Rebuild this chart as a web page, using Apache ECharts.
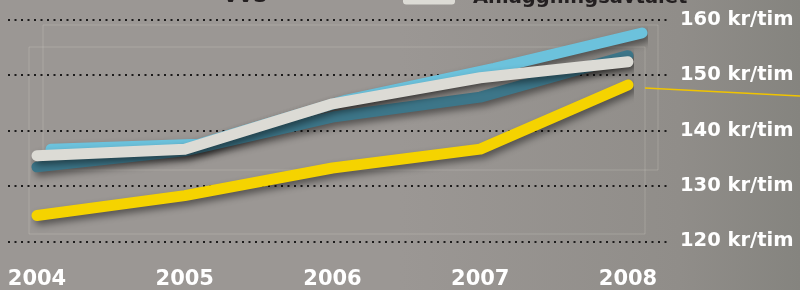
<!DOCTYPE html>
<html>
<head>
<meta charset="utf-8">
<script src="https://cdn.jsdelivr.net/npm/echarts@6/dist/echarts.min.js"></script>
<style>
html,body{margin:0;padding:0;}
#c{width:800px;height:290px;}
</style>
</head>
<body>
<div id="c"></div>
<script>
// ---- data ----
var years = ['2004', '2005', '2006', '2007', '2008'];
var lightBlue = [136.6, 137.5, 145.5, 151.2, 157.6];   // VVS
var darkBlue  = [133.4, 136.3, 142.4, 146.0, 153.5];
var whiteLine = [135.4, 136.6, 144.8, 149.5, 152.4];   // Anläggningsavtalet
var yellow    = [124.6, 128.2, 133.2, 136.6, 148.2];
var yTicks = [120, 130, 140, 150, 160];
var unit = ' kr/tim';

var chart = echarts.init(document.getElementById('c'), null, {renderer: 'canvas'});
var FONT = 'DejaVu Sans';
var TOP = 19.7, BOTTOM = 48.7;

function lineSeries(name, data, color, xi, z) {
  return {
    name: name, type: 'line', data: data,
    xAxisIndex: xi, yAxisIndex: xi,
    symbol: 'none', z: z, silent: true,
    lineStyle: {
      color: color, width: 11, cap: 'round', join: 'round',
      shadowColor: 'rgba(0,0,0,0.45)', shadowBlur: 7,
      shadowOffsetX: 3, shadowOffsetY: 4
    },
    itemStyle: {color: color},
    emphasis: {disabled: true}
  };
}

var option = {
  animation: false,
  backgroundColor: {
    type: 'linear', x: 0, y: 0, x2: 1, y2: 0,
    colorStops: [
      {offset: 0, color: '#9b9794'},
      {offset: 0.5, color: '#9b9794'},
      {offset: 0.85, color: '#908d89'},
      {offset: 1, color: '#85847f'}
    ]
  },
  graphic: [
    {type: 'rect', silent: true, z: 0,
     shape: {x: 43, y: 25, width: 615, height: 145},
     style: {fill: 'none', stroke: 'rgba(230,228,225,0.22)', lineWidth: 1}},
    {type: 'rect', silent: true, z: 0,
     shape: {x: 29, y: 47, width: 616, height: 187},
     style: {fill: 'none', stroke: 'rgba(230,228,225,0.22)', lineWidth: 1}},
    {type: 'line', silent: true, z: 1,
     shape: {x1: 645, y1: 88, x2: 800, y2: 96},
     style: {stroke: '#f0c400', lineWidth: 1.5}}
  ],
  legend: [
    {
      data: ['Anläggningsavtalet'],
      left: 403, top: -12, padding: 0,
      itemWidth: 52, itemHeight: 13,
      icon: 'roundRect',
      selectedMode: false,
      textStyle: {color: '#231f20', fontFamily: FONT, fontWeight: 'bold', fontSize: 19.5,
                  padding: [0, 0, 0, 13]}
    },
    {
      data: [{name: 'VVS', icon: 'none'}],
      left: 218, top: -13, padding: 0,
      itemWidth: 0, itemHeight: 13,
      selectedMode: false,
      textStyle: {color: '#231f20', fontFamily: FONT, fontWeight: 'bold', fontSize: 19.5}
    }
  ],
  grid: [
    {left: 8, right: 130, top: TOP, bottom: BOTTOM},
    {left: 37, right: 172, top: TOP, bottom: BOTTOM},
    {left: 51, right: 158, top: TOP, bottom: BOTTOM}
  ],
  xAxis: [
    {gridIndex: 0, type: 'category', data: years, show: false},
    {gridIndex: 1, type: 'category', data: years, boundaryGap: false,
     axisLine: {show: false}, axisTick: {show: false}, splitLine: {show: false},
     axisLabel: {color: '#ffffff', fontFamily: FONT, fontWeight: 'bold', fontSize: 21, margin: 28}},
    {gridIndex: 2, type: 'category', data: years, boundaryGap: false, show: false}
  ],
  yAxis: [
    {gridIndex: 0, type: 'value', position: 'right', min: yTicks[0], max: yTicks[yTicks.length - 1], interval: 10,
     axisLine: {show: false}, axisTick: {show: false},
     splitLine: {show: true, lineStyle: {color: '#1c1b1b', width: 2, type: [2, 4.5]}},
     axisLabel: {color: '#ffffff', fontFamily: FONT, fontWeight: 'bold', fontSize: 19.5, margin: 10,
                 formatter: function (v) { return v + unit; }}},
    {gridIndex: 1, type: 'value', min: 120, max: 160, show: false, splitLine: {show: false}},
    {gridIndex: 2, type: 'value', min: 120, max: 160, show: false, splitLine: {show: false}}
  ],
  series: [
    lineSeries('VVS', lightBlue, '#6cc2dc', 2, 3),
    lineSeries('Byggavtalet', darkBlue, '#3d7689', 1, 4),
    lineSeries('Anläggningsavtalet', whiteLine, '#dcdbd5', 1, 5),
    lineSeries('Industri', yellow, '#f5d300', 1, 6)
  ]
};
chart.setOption(option);
</script>
</body>
</html>
